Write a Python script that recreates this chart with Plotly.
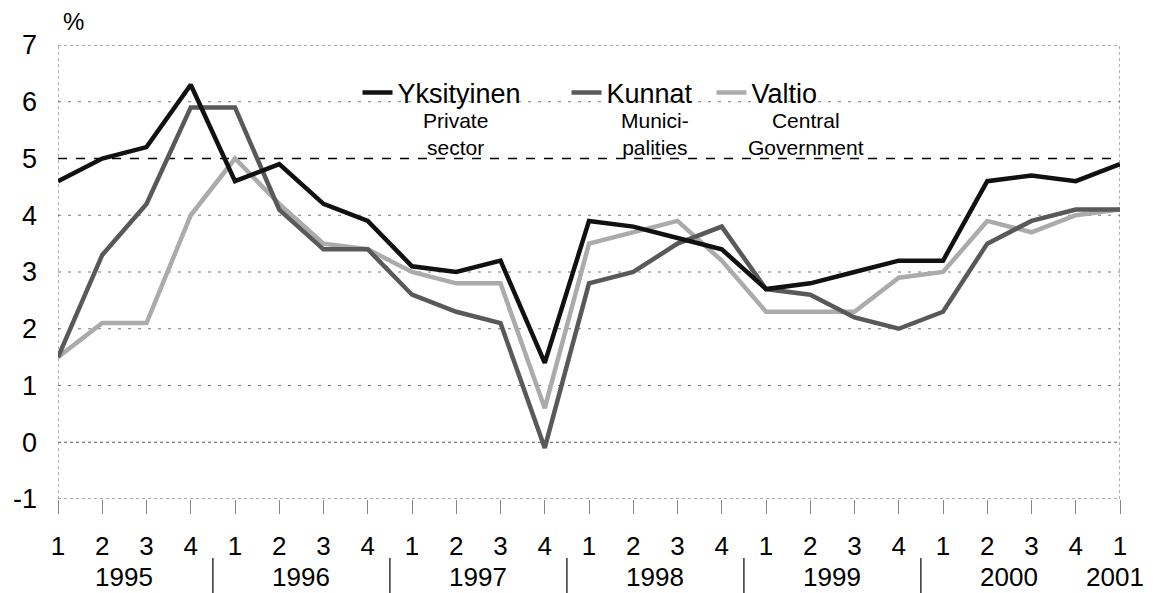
import plotly.graph_objects as go

years = ["1995", "1996", "1997", "1998", "1999", "2000", "2001"]
quarter_labels = ["1", "2", "3", "4"] * 6 + ["1"]
y_ticks = [-1, 0, 1, 2, 3, 4, 5, 6, 7]
y_ticktext = ["-1", "0", "1", "2", "3", "4", "5", "6", "7"]

yksityinen = [4.6, 5.0, 5.2, 6.3,
              4.6, 4.9, 4.2, 3.9,
              3.1, 3.0, 3.2, 1.4,
              3.9, 3.8, 3.6, 3.4,
              2.7, 2.8, 3.0, 3.2,
              3.2, 4.6, 4.7, 4.6,
              4.9]
kunnat = [1.5, 3.3, 4.2, 5.9,
          5.9, 4.1, 3.4, 3.4,
          2.6, 2.3, 2.1, -0.1,
          2.8, 3.0, 3.5, 3.8,
          2.7, 2.6, 2.2, 2.0,
          2.3, 3.5, 3.9, 4.1,
          4.1]
valtio = [1.5, 2.1, 2.1, 4.0,
          5.0, 4.2, 3.5, 3.4,
          3.0, 2.8, 2.8, 0.6,
          3.5, 3.7, 3.9, 3.2,
          2.3, 2.3, 2.3, 2.9,
          3.0, 3.9, 3.7, 4.0,
          4.1]

series_names = ["Yksityinen", "Kunnat", "Valtio"]
series_sub = ["Private<br>sector", "Munici-<br>palities", "Central<br>Government"]

x = list(range(len(quarter_labels)))
FONT = "Liberation Sans, Arial, sans-serif"

fig = go.Figure()
colors = ["#111111", "#595959", "#ababab"]
legend_ids = ["legend", "legend2", "legend3"]
traces = list(zip(series_names, [yksityinen, kunnat, valtio], colors, legend_ids))
# draw lighter lines first so the black line stays on top
for name, vals, col, lg in reversed(traces):
    fig.add_trace(go.Scatter(x=x, y=vals, mode="lines", name=name, legend=lg,
                             line=dict(color=col, width=4.5), cliponaxis=False))

W, H = 1153, 593
L, R, T, B = 58, 33, 45, 94
pw, ph = W - L - R, H - T - B

legend_text_x = [398, 607, 752]
leg_common = dict(orientation="h", xanchor="left", yanchor="middle",
                  y=1 - (93 - T) / ph, bgcolor="rgba(0,0,0,0)",
                  font=dict(size=27, family=FONT, color="black"))
fig.update_layout(
    width=W, height=H,
    margin=dict(l=L, r=R, t=T, b=B, autoexpand=False),
    paper_bgcolor="white", plot_bgcolor="white",
    font=dict(family=FONT, color="black"),
    showlegend=True,
    legend=dict(x=(legend_text_x[0] - 40.5 - L) / pw, **leg_common),
    legend2=dict(x=(legend_text_x[1] - 40.5 - L) / pw, **leg_common),
    legend3=dict(x=(legend_text_x[2] - 40.5 - L) / pw, **leg_common),
)
fig.update_xaxes(range=[0, 24], tickmode="array", tickvals=x, ticktext=quarter_labels,
                 showgrid=False, zeroline=False, showline=False, automargin=False,
                 ticks="outside", ticklen=14, tickcolor="#888", tickwidth=1,
                 tickfont=dict(size=26), ticklabelstandoff=10)
fig.update_yaxes(range=[-1, 7], tickmode="array", tickvals=y_ticks, ticktext=y_ticktext,
                 showgrid=False, zeroline=False, showline=False, ticks="", automargin=False,
                 tickfont=dict(size=27), ticklabelstandoff=20)

# horizontal grid lines (dashed at 5 %), dotted plot frame sides
for yv in y_ticks:
    if yv == 5:
        ln = dict(color="black", width=1.3, dash="dash")
    elif yv in (7, 0, -1):
        ln = dict(color="#555", width=1.2, dash="dot")
    else:
        ln = dict(color="#777", width=1, dash="3px,7px")
    fig.add_shape(type="line", xref="paper", x0=0, x1=1, yref="y", y0=yv, y1=yv,
                  line=ln, layer="below")
for xv in [0, 24]:
    fig.add_shape(type="line", xref="x", x0=xv, x1=xv, yref="paper", y0=0, y1=1,
                  line=dict(color="#666", width=1, dash="dot"), layer="below")

# year labels and separators
year_pos = [1.5 + 4 * i for i in range(6)] + [23.88]
for yr, xp in zip(years, year_pos):
    fig.add_annotation(x=xp, xref="x", y=-(577 - (T + ph)) / ph, yref="paper", text=yr,
                       showarrow=False, font=dict(size=26), xanchor="center", yanchor="middle")
for i in range(5):
    fig.add_shape(type="line", xref="x", x0=3.5 + 4 * i, x1=3.5 + 4 * i, yref="paper",
                  y0=-(558 - (T + ph)) / ph, y1=-(593 - (T + ph)) / ph,
                  line=dict(color="#333", width=1.5))

# subtitles under legend entries
sub_x = [455, 655, 806]
for txt, xp in zip(series_sub, sub_x):
    fig.add_annotation(x=(xp - L) / pw, xref="paper", y=1 - (107 - T) / ph, yref="paper",
                       text=txt, showarrow=False, font=dict(size=21), xanchor="center",
                       yanchor="top", align="center")

fig.add_annotation(x=(73 - L) / pw, xref="paper", y=1 + (T - 22) / ph, yref="paper",
                   text="%", showarrow=False, font=dict(size=24),
                   xanchor="center", yanchor="middle")

fig.write_html("out.html", config={"displayModeBar": False},
               post_script="document.body.style.margin='0';"
                           "document.body.style.overflow='hidden';")
